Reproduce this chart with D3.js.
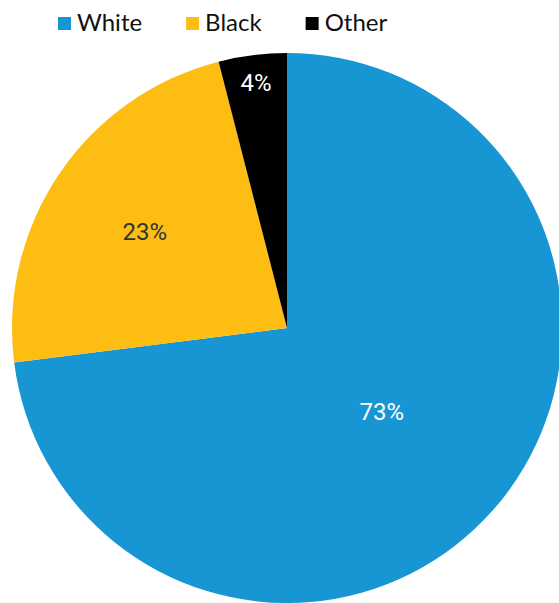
<!DOCTYPE html>
<html>
<head>
<meta charset="utf-8">
<script src="https://cdn.jsdelivr.net/npm/d3@7"></script>
<style>
  html, body { margin: 0; padding: 0; background: #fff; }
  svg { display: block; }
</style>
</head>
<body>
<svg id="chart" width="559" height="603"></svg>
<script>
// Share of population by race
const categories = ["White", "Black", "Other"];
const values = [73, 23, 4];
const colors = ["#1896d4", "#fdbd13", "#000000"];
const labelColors = ["#ffffff", "#333333", "#ffffff"];
// label distance from centre, as a fraction of the radius
const labelRadius = [0.46, 0.625, 0.9];

const svg = d3.select("#chart");
const legendFont = "Lato, 'Open Sans', sans-serif";
const labelFont = "Roboto, 'Liberation Sans', sans-serif";

const cx = 287, cy = 328, r = 275;

const pie = d3.pie().sort(null).value(d => d)(values);
const arc = d3.arc().innerRadius(0).outerRadius(r);

const g = svg.append("g").attr("transform", `translate(${cx},${cy})`);
g.selectAll("path.slice")
  .data(pie)
  .join("path")
  .attr("class", "slice")
  .attr("d", arc)
  .attr("fill", (d, i) => colors[i]);

g.selectAll("text.val")
  .data(pie)
  .join("text")
  .attr("class", "val")
  .attr("transform", (d, i) => {
    const a = (d.startAngle + d.endAngle) / 2;
    const rr = r * labelRadius[i];
    return `translate(${Math.sin(a) * rr},${-Math.cos(a) * rr})`;
  })
  .attr("text-anchor", "middle")
  .attr("dy", "0.36em")
  .attr("font-family", labelFont)
  .attr("font-size", 24)
  .attr("fill", (d, i) => labelColors[i])
  .text(d => d.data + "%");

// Legend
const legend = svg.append("g").attr("transform", "translate(58,0)");
let x = 0;
categories.forEach((c, i) => {
  const item = legend.append("g").attr("transform", `translate(${x},0)`);
  item.append("rect")
    .attr("x", 0).attr("y", 17).attr("width", 13).attr("height", 13)
    .attr("fill", colors[i]);
  const t = item.append("text")
    .attr("x", 19).attr("y", 31)
    .attr("font-family", legendFont)
    .attr("font-size", 24)
    .attr("fill", "#111")
    .text(c);
  x += 19 + t.node().getComputedTextLength() + 44;
});
</script>
</body>
</html>
